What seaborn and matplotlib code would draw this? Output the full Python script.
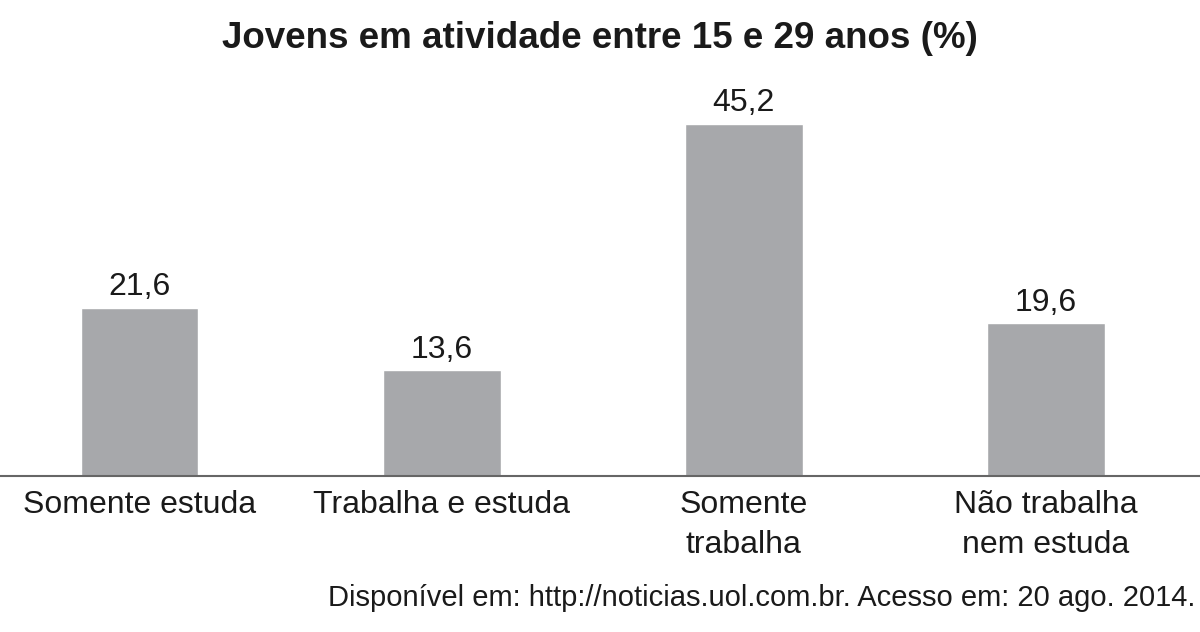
import pandas as pd
import seaborn as sns
import matplotlib.pyplot as plt

categorias = ["Somente estuda", "Trabalha e estuda", "Somente\ntrabalha", "Não trabalha\nnem estuda"]
valores = [21.6, 13.6, 45.2, 19.6]
rotulos = ["21,6", "13,6", "45,2", "19,6"]

titulo = "Jovens em atividade entre 15 e 29 anos (%)"
fonte = "Disponível em: http://noticias.uol.com.br. Acesso em: 20 ago. 2014."

df = pd.DataFrame({"categoria": categorias, "valor": valores})

sns.set_theme(style="white")
plt.rcParams['font.family'] = ['Liberation Sans', 'DejaVu Sans']
text_color = "#1a1a1a"

fig = plt.figure(figsize=(12, 6.32), dpi=100)
ax = fig.add_axes([0, (632 - 476) / 632, 1, 476 / 632])

sns.barplot(data=df, x="categoria", y="valor", color="#a7a8ab", saturation=1,
            width=0.39, ax=ax)

for i, (v, r) in enumerate(zip(valores, rotulos)):
    ax.annotate(r, (i, v), xytext=(0, 4), textcoords="offset points",
                ha="center", va="bottom", fontsize=23, color=text_color)

ax.set_xlim(-0.462, 3.51)
ax.set_ylim(0, 476 / 7.79)
ax.set_xlabel("")
ax.set_ylabel("")
ax.set_yticks([])
ax.tick_params(axis="x", length=0, pad=10, labelsize=23, labelcolor=text_color)
for lbl in ax.get_xticklabels():
    lbl.set_linespacing(1.42)
for s in ["top", "left", "right"]:
    ax.spines[s].set_visible(False)
ax.spines["bottom"].set_color("#666666")
ax.spines["bottom"].set_linewidth(1.5)

fig.text(0.5, 1 - 38 / 632, titulo, ha="center", va="center", fontsize=26.5,
         fontweight="bold", color=text_color)
fig.text(1195 / 1200, 1 - 598 / 632, fonte, ha="right", va="center", fontsize=21,
         color=text_color)

fig.savefig("out.png", dpi=100)
